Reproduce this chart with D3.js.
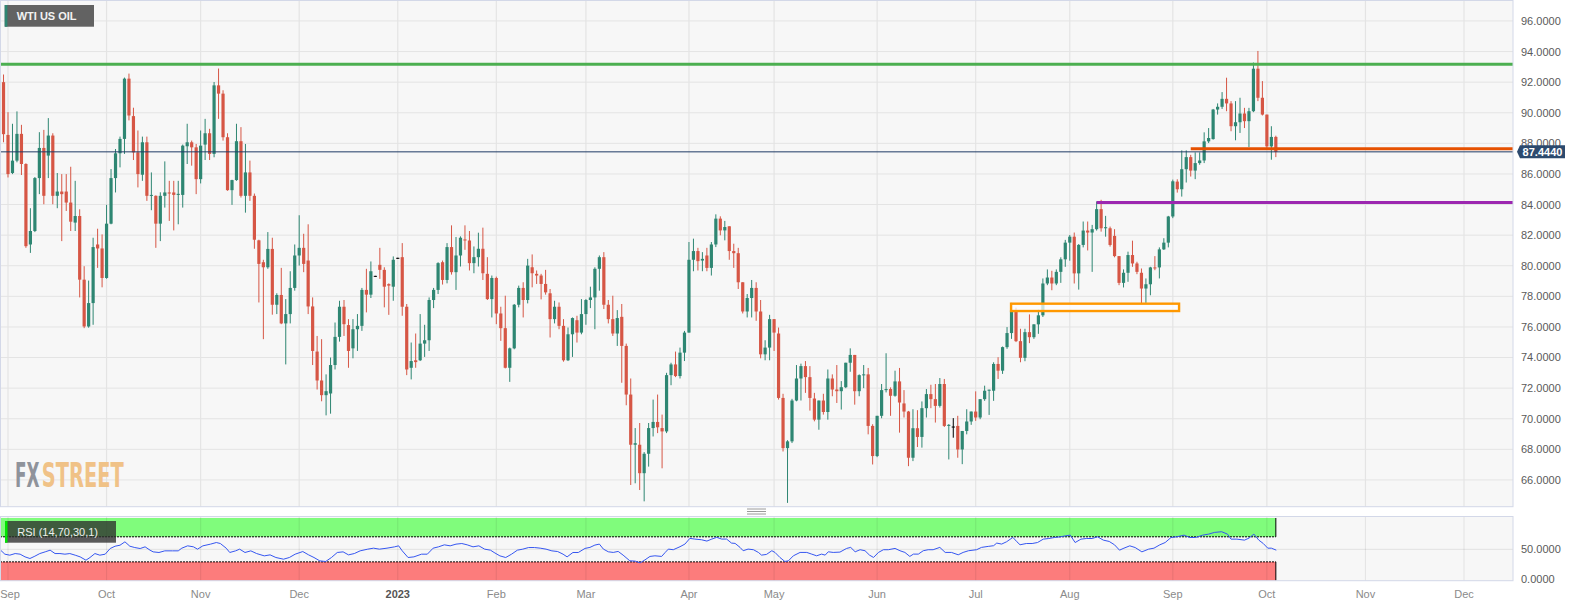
<!DOCTYPE html>
<html lang="en">
<head>
<meta charset="UTF-8">
<title>WTI US OIL</title>
<script src="https://cdnjs.cloudflare.com/ajax/libs/d3/7.8.5/d3.min.js"></script>
<style>
body { margin: 0; background: #fff; }
text { font-family: "Liberation Sans", Arial, sans-serif; }
</style>
</head>
<body>
<div id="chart"></div>
<script>
// daily candles [open, high, low, close]; row 0 is two sessions before 1 Sep 2022
var firstIndex = -2;
var ohlc = [
  [97.90,98.30,90.20,90.30],[92.00,92.50,88.07,88.60],
  // Sep 2022
  [88.55,90.04,85.77,85.99],[86.06,89.28,85.99,86.87],[86.87,90.09,86.76,88.62],[88.62,89.21,85.93,86.65],
  [86.65,86.70,81.17,81.28],[81.39,83.76,80.84,82.27],[82.27,85.80,82.20,85.73],[85.73,88.73,84.68,87.70],
  [87.70,88.88,84.02,84.57],[87.20,89.65,85.73,88.51],[88.51,88.66,84.02,84.57],[84.57,86.06,83.76,84.85],
  [84.85,85.99,81.61,84.68],[84.85,85.99,83.58,84.13],[84.13,86.47,82.27,82.88],[82.82,85.55,82.27,83.25],
  [83.25,83.69,77.93,79.09],[79.09,79.97,75.92,76.03],[76.03,79.03,75.95,77.56],[77.56,81.83,76.14,81.22],
  [81.39,82.42,79.86,81.13],[81.13,82.05,78.59,79.20],
  // Oct 2022
  [79.20,83.98,79.15,82.75],[82.75,86.32,82.71,85.73],[85.73,87.63,84.79,87.35],[87.35,88.44,86.43,88.29],
  [88.29,92.30,87.31,92.23],[92.23,92.56,89.50,89.82],[89.78,90.33,86.91,87.41],[87.41,88.84,85.12,85.99],
  [85.95,88.44,85.55,88.07],[88.07,88.44,84.24,84.57],[84.57,86.10,83.63,84.63],[84.57,84.60,81.17,82.75],
  [82.75,84.80,81.61,84.57],[84.57,86.82,83.80,84.79],[84.79,85.55,82.93,84.72],[84.79,85.55,82.31,84.63],
  [84.63,85.55,82.71,84.70],[84.63,87.92,83.80,87.85],[87.81,89.28,86.65,88.07],[88.07,88.18,86.54,87.74],
  [87.74,87.96,84.68,85.66],
  // Nov 2022
  [85.66,88.84,85.38,87.85],[87.92,89.60,86.91,88.66],[88.66,88.95,86.91,87.31],[87.31,92.01,87.09,91.79],
  [91.79,92.89,89.60,91.25],[91.25,91.47,88.18,88.40],[88.40,88.66,84.90,84.94],[84.94,85.62,83.98,85.60],
  [85.60,89.28,85.55,88.14],[88.14,89.06,84.46,84.57],[84.57,87.96,83.47,86.10],[86.10,86.87,84.24,84.57],
  [84.57,84.72,81.11,81.70],[81.66,81.70,77.60,80.12],[80.23,80.39,75.20,79.90],[79.90,82.20,79.80,81.10],
  [81.10,81.83,76.80,77.45],[77.45,78.20,76.84,78.09],[78.09,79.86,76.18,76.23],[76.23,77.82,73.55,76.84],
  [76.84,79.64,76.23,78.55],[78.55,81.39,78.37,80.67],
  // Dec 2022
  [80.67,83.30,80.01,81.17],[81.17,82.09,79.58,80.12],[80.34,82.71,76.84,77.34],[77.34,77.93,73.51,74.43],
  [74.39,75.41,71.91,72.50],[72.50,75.20,71.14,71.54],[71.54,72.90,70.22,71.80],[71.65,74.00,70.33,73.51],
  [73.51,76.29,73.22,75.35],[75.35,77.71,75.04,77.32],[77.32,77.76,75.41,76.18],[76.12,76.51,73.33,74.43],
  [74.60,76.51,73.95,75.85],[75.85,76.84,74.43,76.07],[76.07,78.55,75.74,78.42],[78.42,79.80,76.95,78.11],
  [78.11,80.28,77.89,79.64],[79.34,79.34,79.34,79.34],[80.06,81.17,79.14,79.73],[79.73,79.90,77.28,78.63],
  [78.80,78.85,76.79,78.70],[78.63,80.61,77.71,80.39],
  // Jan 2023
  [80.52,80.52,80.52,80.52],[80.56,81.48,76.73,77.32],[77.32,77.50,72.85,73.22],[73.33,74.98,72.57,73.77],
  [73.82,75.57,73.33,73.70],[73.82,76.84,73.77,74.91],[74.91,76.14,74.04,75.13],[75.13,77.93,74.43,77.76],
  [77.76,78.55,77.23,78.42],[78.42,80.23,78.15,80.17],[80.23,80.34,78.77,79.07],[79.07,81.48,78.85,81.22],
  [81.22,82.64,79.42,79.58],[79.58,81.88,78.42,80.67],[80.67,81.92,79.95,81.83],[81.72,82.64,81.04,81.65],
  [81.65,82.27,79.69,80.17],[80.17,81.26,79.51,80.56],[80.56,82.16,79.95,81.11],[81.11,82.49,79.07,79.51],
  [79.47,80.56,77.76,77.82],[77.82,79.36,76.62,79.20],
  // Feb 2023
  [79.20,79.29,76.18,76.88],[76.88,77.32,75.09,75.92],[75.92,78.04,73.29,73.33],[73.33,74.65,72.41,74.60],
  [74.60,77.50,74.54,77.45],[77.45,78.70,77.28,78.55],[78.55,78.92,76.62,77.76],[77.76,80.45,77.54,80.01],
  [79.90,80.74,78.59,79.51],[79.47,79.69,78.81,79.36],[79.36,79.47,77.80,78.81],[78.81,79.73,78.11,78.26],
  [78.20,78.48,75.31,76.51],[76.51,77.71,76.23,77.32],[77.32,77.60,75.85,76.07],[76.07,76.51,73.73,73.82],
  [73.82,75.96,73.77,75.52],[75.52,76.62,74.04,76.58],[76.44,76.73,74.98,75.63],[75.63,77.82,75.52,76.84],
  // Mar 2023
  [76.84,77.82,76.14,77.76],[77.76,78.63,77.23,77.93],[77.93,79.90,75.85,79.80],[79.80,80.67,78.37,80.56],
  [80.56,80.89,77.17,77.45],[77.45,77.76,76.23,76.51],[76.51,78.04,75.41,75.57],[75.57,77.10,74.76,76.58],
  [76.66,77.50,72.35,74.76],[74.76,74.91,70.88,71.58],[71.58,72.63,65.67,68.30],[68.30,69.39,65.78,68.40],
  [68.30,69.72,65.34,66.44],[66.44,67.82,64.60,67.71],[67.71,69.72,66.87,69.39],[69.39,71.25,68.84,69.79],
  [69.79,71.58,69.06,69.44],[69.39,70.27,66.76,69.17],[69.17,73.00,69.06,72.85],[72.85,73.66,72.19,73.55],
  [73.55,74.39,72.72,72.79],[72.79,74.65,72.63,74.32],[74.32,75.74,73.77,75.63],
  // Apr 2023
  [75.63,81.55,75.63,80.39],[80.39,81.77,79.64,80.96],[80.96,81.17,79.69,80.30],[80.34,80.89,79.64,80.45],
  [80.67,81.17,79.64,79.86],[79.86,81.55,79.36,81.39],[81.39,83.36,81.22,83.08],[83.08,83.23,81.99,82.31],
  [82.31,82.93,81.66,82.53],[82.58,82.58,80.39,80.96],[80.96,81.44,79.86,80.82],[80.82,81.17,78.48,78.92],
  [78.92,78.92,76.88,77.01],[77.01,78.15,76.62,77.89],[77.89,79.07,76.62,78.55],[78.55,78.92,76.40,77.01],
  [77.01,77.76,73.95,74.21],[74.21,75.13,73.82,74.65],[74.65,76.79,73.82,76.51],
  // May 2023
  [76.51,76.51,74.43,75.63],[75.57,75.96,71.25,71.36],[71.36,71.63,67.86,68.08],[68.08,68.60,64.50,68.52],
  [68.52,71.30,68.41,71.19],[71.19,73.51,71.14,72.63],[72.63,73.60,71.19,73.44],[73.44,73.77,71.69,72.72],
  [72.72,73.44,70.53,71.36],[71.32,71.69,69.83,69.94],[69.94,71.19,69.28,71.19],[71.19,71.63,70.27,70.44],
  [70.44,73.22,69.94,72.63],[72.63,72.90,71.47,71.91],[71.91,73.51,71.03,71.80],[71.80,72.46,70.60,72.06],
  [72.06,73.66,72.00,73.66],[73.66,74.60,73.07,74.17],[74.17,74.17,70.92,71.80],[71.80,72.90,71.47,72.85],
  [72.85,73.51,72.00,72.90],[72.90,73.32,68.98,69.53],[69.53,69.64,67.01,67.56],
  // Jun 2023
  [67.56,70.19,67.49,70.19],[70.19,72.27,70.03,71.87],[71.87,74.28,71.72,71.94],[71.94,72.05,70.19,71.50],
  [71.50,73.14,71.44,72.44],[72.44,73.32,69.09,71.06],[71.00,71.87,70.08,70.47],[70.47,70.51,66.90,67.45],
  [67.45,70.62,67.23,69.38],[69.38,70.56,68.15,68.81],[68.81,71.13,68.11,70.69],[70.69,71.94,70.08,71.61],
  [71.61,72.22,70.69,71.28],[71.28,72.27,69.75,70.84],[70.84,72.66,70.73,72.27],[72.27,72.60,69.46,69.53],
  [69.53,69.65,67.34,69.60],[69.49,70.04,68.76,69.49],[69.53,70.19,67.45,67.99],[67.99,69.20,67.03,69.20],
  [69.20,70.62,68.98,69.82],[69.82,70.47,69.60,70.47],
  // Jul 2023
  [70.47,71.79,69.86,70.08],[70.08,71.28,69.97,71.28],[71.28,72.16,71.17,71.83],[71.83,71.90,70.25,71.90],
  [71.83,73.69,71.17,73.58],[73.58,74.02,72.60,73.14],[73.14,74.72,72.93,74.68],[74.68,75.99,74.57,75.60],
  [75.60,77.57,75.22,77.09],[77.09,77.26,75.01,75.07],[75.07,75.88,73.69,73.98],[73.98,75.88,73.76,75.66],
  [75.66,76.82,74.94,75.33],[75.33,76.17,75.22,76.17],[76.17,77.13,75.55,76.76],[76.76,79.17,76.65,78.84],
  [78.84,79.76,78.73,79.23],[79.23,79.67,78.40,78.84],[78.84,79.76,78.73,79.60],[79.60,80.55,78.88,80.42],
  [80.42,81.69,79.93,81.51],
  // Aug 2023
  [81.51,82.01,80.33,81.90],[81.90,82.17,78.84,79.50],[79.50,81.42,78.44,81.36],[81.36,82.89,81.20,82.30],
  [82.30,82.89,81.00,82.17],[82.17,82.67,79.60,82.39],[82.39,84.20,82.30,83.70],[83.70,84.31,82.23,82.45],
  [82.45,83.26,81.90,82.52],[82.45,82.56,81.25,81.36],[81.95,82.39,80.55,80.63],[80.63,80.63,78.73,78.88],
  [78.88,79.76,78.58,79.54],[79.54,80.92,78.95,80.70],[80.70,81.64,79.93,80.15],[80.15,80.26,79.45,79.60],
  [79.54,79.82,77.52,78.51],[78.51,79.17,77.57,78.79],[78.79,79.93,78.07,79.89],[79.89,80.63,79.71,79.85],
  [79.89,81.20,79.17,81.07],[81.07,81.80,81.03,81.51],[81.51,83.26,81.20,83.22],
  // Sep 2023
  [83.22,85.63,83.11,85.52],[85.50,85.65,84.78,85.00],[85.00,87.54,84.52,86.31],[86.31,87.54,85.44,87.10],
  [87.10,87.25,85.83,86.22],[86.22,87.41,85.66,86.71],[86.71,87.41,86.60,86.88],[86.88,88.72,86.71,88.13],
  [88.13,89.00,88.02,88.35],[88.28,90.25,88.24,90.21],[90.21,90.61,89.88,90.39],[90.39,91.35,90.25,90.91],
  [90.91,92.29,90.10,90.61],[90.61,90.76,88.79,89.12],[89.12,90.76,88.20,89.38],[89.38,90.98,88.68,89.95],
  [89.95,90.32,89.00,89.45],[89.45,90.32,87.76,90.10],[90.10,93.28,90.04,92.88],[92.88,94.04,90.76,90.98],
  [90.98,92.07,89.82,89.88],
  // Oct 2023
  [89.88,89.88,87.69,87.80],[87.80,89.12,86.93,88.42],[88.42,88.50,87.10,87.444]
];

var priceTicks = [66, 68, 70, 72, 74, 76, 78, 80, 82, 84, 86, 88, 90, 92, 94, 96];
var rsiTicks = [0, 50];
var monthLabels = ["Sep", "Oct", "Nov", "Dec", "2023", "Feb", "Mar", "Apr", "May", "Jun", "Jul", "Aug", "Sep", "Oct", "Nov", "Dec"];
var monthStart = [0, 22, 43, 65, 87, 109, 129, 152, 171, 194, 216, 237, 260, 281, 303, 325];

// drawn levels: price, first candle index, colour
var levelPrice = [93.17, 87.65, 84.14];
var levelFrom = [-2, 264, 243];
var levelColor = ["#4caf50", "#e65100", "#9c27b0"];

// orange zone: candle index range and price range
var boxFrom = [223.9], boxTo = [261.4], boxLow = [77.04], boxHigh = [77.52];

// RSI(14) line: [candle index, value]
var rsiPoints = [
  [-1.8,49.7],[-0.7,42.3],[0.4,40.7],[1.6,43.3],[2.7,42.3],[3.8,38],[4.9,35.4],[6,39.1],[7.1,43.3],[8.3,46],
  [9.4,48.7],[10.5,43.3],[11.6,43.3],[12.7,42.3],[13.8,43.3],[15,40.7],[16.1,38],[17.4,32.7],[18.3,37],[19.4,43.3],
  [20.5,40.7],[21.7,42.3],[22.8,51.3],[23.9,55],[25,56.6],[26.1,62],[27.2,55],[28.3,52.9],[29.5,51.3],[30.6,54],
  [31.7,48.7],[32.4,46],[33.7,45],[35,47.6],[36.7,47.6],[38,47.6],[38.8,51.9],[40.1,55.6],[41.4,54],[42.3,50.3],
  [43.5,55.6],[45.2,58.3],[46.5,60.9],[47.4,59.3],[48.7,51.9],[49.5,45],[50.8,47.6],[51.7,50.3],[52.9,45],[54.2,47.6],
  [55.5,43.3],[57.2,39.6],[58.5,41.2],[59.8,37],[61.5,34.3],[62.8,37],[64.1,42.3],[65.8,46.5],[67.1,41.2],[68.3,37],
  [69.6,31.6],[70.9,30.6],[72.2,37],[73.5,45],[74.8,46],[76,41.2],[77.3,43.3],[78.6,47.6],[80.3,50.3],[81.6,51.9],
  [82.9,50.3],[84.6,51.9],[86.3,54],[87.2,55.6],[88,47.6],[89.3,37],[90.6,38],[92.3,42.3],[93.6,42.3],[94.9,51.9],
  [96.1,54],[97.4,57.2],[98.7,55.6],[100,58.3],[101.3,59.3],[102.5,57.2],[103.8,54],[105.1,55.6],[106.4,50.3],[107.7,48.7],
  [108.5,45],[109.8,39.6],[111.1,37],[112.4,42.3],[113.7,48.7],[114.9,50.3],[116.2,52.9],[117.5,52.9],[118.8,51.9],[120.1,50.3],
  [121.4,47.6],[122.7,46.5],[123.9,42.3],[124.8,38],[126.1,45],[127.3,45],[128.8,51.5],[129.9,53.1],[131,56.8],[132,58.4],
  [132.9,50.4],[134,46.1],[135.1,45.1],[136.2,46.7],[137.3,40.8],[138.8,31.7],[140,31.2],[141.1,28.5],[142.2,33.3],[143.3,38.7],
  [144.4,39.7],[145.9,38.7],[146.7,45.1],[147.4,50.4],[148.5,49.4],[150,54.2],[151.1,58.4],[152.2,67.5],[153.3,66.4],[154.8,65.3],
  [156,63.2],[157.1,66.4],[158.2,69.1],[159.3,66.4],[160.4,66.4],[161.5,60],[162.3,59.5],[163.4,53.1],[164.1,47.8],[165.2,50.4],
  [166.4,49.4],[167.5,45.1],[168.2,40.8],[169.3,41.9],[170.5,47.8],[171.2,45.1],[172.3,37.1],[173.4,30.7],[174.2,31.7],[175.3,39.7],
  [176.8,45.1],[178.3,45.1],[179.4,42.4],[180.5,39.7],[181.6,42.4],[182.4,40.8],[183.1,46.1],[184.2,45.1],[185.7,45.6],[187.2,51.5],
  [188.1,53.1],[189.1,46.1],[190.2,49.4],[191.3,47.8],[192.3,40.8],[193.2,37.1],[194.3,45.1],[195.4,49.4],[196.5,49.4],[198,51.5],
  [199.1,47.8],[200.2,45.1],[201.3,38.7],[202.1,42.4],[203.2,42.4],[204.3,47.8],[205.4,49.4],[206.5,49.4],[208,53.1],[209.2,45.1],
  [210.6,45.1],[212.1,41.3],[213.2,45.1],[214.4,47.8],[216.2,49.4],[217.3,53.1],[218.8,54.7],[220,55.8],[220.7,60],[221.8,58.4],
  [222.9,62.1],[224.3,69.1],[225.2,62.1],[225.9,57.3],[227.3,59.3],[228.6,59.3],[229.8,60.9],[231.1,66.3],[232.3,67.3],[233.6,68.9],
  [234.9,70],[236.1,71.6],[237.1,72.7],[238.2,60.9],[239.5,66.3],[240.7,67.3],[242,67.3],[243.2,70],[244.5,64.7],[245.8,62.6],
  [247,57.2],[248.1,48.7],[249.1,51.9],[250.4,55.6],[251.6,52.9],[253.1,46],[254.6,50.3],[255.8,51.9],[257.1,57.2],[258.3,60.9],
  [259.6,68.9],[260.9,70],[262.5,72.7],[263.8,68.9],[265.1,68.9],[266.7,72.7],[268,74.3],[269.3,77],[270.9,78.1],[272.2,74.3],
  [273,66.3],[274.3,66.3],[276,64.7],[277,67.9],[278.1,74.3],[279.2,64.7],[280.2,59.3],[281.2,51.9],[282,51.9],[283.1,48.7]
];

var W = 1590, H = 607;
var plotRight = 1513;
var mainTop = 0, mainBottom = 506.7;
var rsiTop = 516.5, rsiBottom = 580.7;
var up = "#2e8672", down = "#d65645";

var lastIndex = firstIndex + ohlc.length - 1;
var lastClose = ohlc[ohlc.length - 1][3];

var x = d3.scaleLinear().domain([-8 / 4.48, (plotRight - 8) / 4.48]).range([0, plotRight]);
var y = d3.scaleLinear().domain([64.25, 97.37]).range([mainBottom, mainTop]);
var ry = d3.scaleLinear().domain([0, 100]).range([rsiBottom, 518]);

var svg = d3.select("#chart").append("svg")
    .attr("width", W)
    .attr("height", H);

svg.append("clipPath").attr("id", "clipMain")
  .append("rect").attr("x", 0).attr("y", mainTop).attr("width", plotRight).attr("height", mainBottom - mainTop);
svg.append("clipPath").attr("id", "clipRsi")
  .append("rect").attr("x", 0).attr("y", rsiTop).attr("width", plotRight).attr("height", rsiBottom - rsiTop);

// ---------- main panel ----------
svg.append("rect")
    .attr("x", 0).attr("y", mainTop)
    .attr("width", plotRight).attr("height", mainBottom - mainTop)
    .style("fill", "#f7f7f7");

var main = svg.append("g").attr("clip-path", "url(#clipMain)");

main.selectAll(".hgrid").data(priceTicks).enter().append("line")
    .attr("x1", 0).attr("x2", plotRight)
    .attr("y1", function (d) { return y(d); })
    .attr("y2", function (d) { return y(d); })
    .style("stroke", "#e4e4e4").style("stroke-width", 1);

main.selectAll(".vgrid").data(monthStart).enter().append("line")
    .attr("x1", function (d) { return x(d); })
    .attr("x2", function (d) { return x(d); })
    .attr("y1", mainTop).attr("y2", mainBottom)
    .style("stroke", "#e4e4e4").style("stroke-width", 1.2);

// watermark: each word squeezed into its own width with a scale transform
var logoFont = "'DejaVu Sans Condensed', 'Liberation Sans Narrow', sans-serif";
function logoWord(word, left, width, colour) {
    var g = svg.append("g");
    var t = g.append("text")
        .attr("x", 0).attr("y", 0)
        .style("font-family", logoFont).style("font-weight", "bold").style("font-size", "34px")
        .style("fill", colour)
        .text(word);
    var natural = t.node().getComputedTextLength() || width;
    g.attr("transform", "translate(" + left + ",486.5) scale(" + (width / natural) + ",1)");
}
logoWord("FX", 15, 24.5, "#8f939b");
logoWord("STREET", 41.8, 82, "#f0c287");

// candles
var candles = ohlc.map(function (d, k) {
    return { i: firstIndex + k, open: d[0], high: d[1], low: d[2], close: d[3] };
});

function candleColor(d) {
    if (d.close > d.open) return up;
    if (d.close < d.open) return down;
    return "#000";
}

main.selectAll(".wick").data(candles).enter().append("line")
    .attr("x1", function (d) { return x(d.i); })
    .attr("x2", function (d) { return x(d.i); })
    .attr("y1", function (d) { return y(d.high); })
    .attr("y2", function (d) { return Math.max(y(d.low), y(d.high) + 1); })
    .style("stroke", candleColor)
    .style("stroke-width", 1);

main.selectAll(".body").data(candles).enter().append("rect")
    .attr("x", function (d) { return x(d.i) - 1.6; })
    .attr("width", 3.2)
    .attr("y", function (d) { return y(Math.max(d.open, d.close)); })
    .attr("height", function (d) { return Math.max(1, Math.abs(y(d.open) - y(d.close))); })
    .style("fill", candleColor);

// orange zone
main.selectAll(".zone").data(boxFrom).enter().append("rect")
    .attr("x", function (d, k) { return x(d); })
    .attr("width", function (d, k) { return x(boxTo[k]) - x(d); })
    .attr("y", function (d, k) { return y(boxHigh[k]); })
    .attr("height", function (d, k) { return y(boxLow[k]) - y(boxHigh[k]); })
    .style("fill", "rgba(255,255,255,0.75)")
    .style("stroke", "#ff9800")
    .style("stroke-width", 2.4);

// horizontal levels
main.selectAll(".level").data(levelPrice).enter().append("line")
    .attr("x1", function (d, k) { return Math.max(0, x(levelFrom[k])); })
    .attr("x2", plotRight)
    .attr("y1", function (d) { return y(d); })
    .attr("y2", function (d) { return y(d); })
    .style("stroke", function (d, k) { return levelColor[k]; })
    .style("stroke-width", 3);

// last price line
main.append("line")
    .attr("x1", 0).attr("x2", plotRight)
    .attr("y1", y(lastClose)).attr("y2", y(lastClose))
    .style("stroke", "#1f3a66").style("stroke-width", 1);

// title tag
svg.append("rect").attr("x", 4.7).attr("y", 5).attr("width", 89.3).attr("height", 21.7).style("fill", "#626262");
svg.append("rect").attr("x", 4.7).attr("y", 5).attr("width", 2.7).attr("height", 21.7).style("fill", up);
svg.append("text").attr("x", 16.7).attr("y", 20.3)
    .style("font-size", "11px").style("font-weight", "bold").style("fill", "#f2f2f2")
    .text("WTI US OIL");

// borders
svg.append("rect")
    .attr("x", 0.5).attr("y", 0.5)
    .attr("width", plotRight - 0.5).attr("height", mainBottom - 0.5)
    .style("fill", "none").style("stroke", "#d3d8e8").style("stroke-width", 1);

// splitter grip
svg.selectAll(".grip").data([509, 511.5, 514]).enter().append("line")
    .attr("x1", 747).attr("x2", 766)
    .attr("y1", function (d) { return d; }).attr("y2", function (d) { return d; })
    .style("stroke", "#9a9a9a").style("stroke-width", 1);

// price axis
svg.selectAll(".ptick").data(priceTicks).enter().append("text")
    .attr("x", plotRight + 8)
    .attr("y", function (d) { return y(d); })
    .attr("dy", "0.36em")
    .style("font-size", "11px").style("fill", "#5a5a5a")
    .text(function (d) { return d.toFixed(4); });

// last price tag (sits over the nearest axis label, as in the original)
var ty = y(lastClose);
svg.append("path")
    .attr("d", "M" + (plotRight + 4) + "," + ty +
        " L" + (plotRight + 7) + "," + (ty - 6.5) +
        " L" + (plotRight + 52) + "," + (ty - 6.5) +
        " L" + (plotRight + 52) + "," + (ty + 6.5) +
        " L" + (plotRight + 7) + "," + (ty + 6.5) + " Z")
    .style("fill", "#2c4a6e");
svg.append("text")
    .attr("x", plotRight + 29.5).attr("y", ty).attr("dy", "0.36em")
    .attr("text-anchor", "middle")
    .style("font-size", "11px").style("font-weight", "bold").style("fill", "#fff")
    .text(lastClose.toFixed(4));

// ---------- RSI panel ----------
svg.append("rect")
    .attr("x", 0).attr("y", rsiTop)
    .attr("width", plotRight).attr("height", rsiBottom - rsiTop)
    .style("fill", "#f7f7f7");

var rsi = svg.append("g").attr("clip-path", "url(#clipRsi)");
var xEnd = x(lastIndex);

rsi.append("rect").attr("x", 0).attr("y", ry(100)).attr("width", xEnd).attr("height", ry(70) - ry(100))
    .style("fill", "#80fc7c");
rsi.append("rect").attr("x", 0).attr("y", ry(30)).attr("width", xEnd).attr("height", ry(0) - ry(30))
    .style("fill", "#fc7c7c");

rsi.selectAll(".vgrid").data(monthStart).enter().append("line")
    .attr("x1", function (d) { return x(d); })
    .attr("x2", function (d) { return x(d); })
    .attr("y1", rsiTop).attr("y2", rsiBottom)
    .style("stroke", "rgba(0,0,0,0.07)").style("stroke-width", 1.2);
rsi.append("line").attr("x1", 0).attr("x2", plotRight).attr("y1", ry(50)).attr("y2", ry(50))
    .style("stroke", "rgba(0,0,0,0.07)").style("stroke-width", 1.2);

rsi.selectAll(".band").data([70, 30]).enter().append("line")
    .attr("x1", 0).attr("x2", xEnd)
    .attr("y1", function (d) { return ry(d); }).attr("y2", function (d) { return ry(d); })
    .style("stroke", "#000").style("stroke-width", 1).style("stroke-dasharray", "2,1");
rsi.selectAll(".bandEdge").data([[100, 70], [30, 0]]).enter().append("line")
    .attr("x1", xEnd).attr("x2", xEnd)
    .attr("y1", function (d) { return ry(d[0]); }).attr("y2", function (d) { return ry(d[1]); })
    .style("stroke", "#000").style("stroke-width", 1);
rsi.selectAll(".bandLeft").data([[100, 70], [30, 0]]).enter().append("line")
    .attr("x1", 0.5).attr("x2", 0.5)
    .attr("y1", function (d) { return ry(d[0]); }).attr("y2", function (d) { return ry(d[1]); })
    .style("stroke", "#000").style("stroke-width", 1);

var rsiLine = d3.line()
    .x(function (d) { return x(d[0]); })
    .y(function (d) { return ry(d[1]); });
rsi.append("path").datum(rsiPoints)
    .attr("d", rsiLine)
    .style("fill", "none").style("stroke", "#3556f0").style("stroke-width", 1);

// RSI tag
svg.append("rect").attr("x", 5).attr("y", 521).attr("width", 111).attr("height", 21.7).style("fill", "rgba(45,45,45,0.78)");
svg.append("rect").attr("x", 5).attr("y", 521).attr("width", 2.5).attr("height", 21.7).style("fill", "#00e600");
svg.append("text").attr("x", 17.3).attr("y", 535.8)
    .style("font-size", "11px").style("fill", "#eeeeee")
    .text("RSI (14,70,30,1)");

svg.append("rect")
    .attr("x", 0.5).attr("y", rsiTop)
    .attr("width", plotRight - 0.5).attr("height", rsiBottom - rsiTop)
    .style("fill", "none").style("stroke", "#d3d8e8").style("stroke-width", 1);

svg.selectAll(".rtick").data(rsiTicks).enter().append("text")
    .attr("x", plotRight + 8)
    .attr("y", function (d) { return d === 0 ? ry(d) - 1.4 : ry(d); })
    .attr("dy", "0.36em")
    .style("font-size", "11px").style("fill", "#5a5a5a")
    .text(function (d) { return d.toFixed(4); });

// month labels
svg.selectAll(".mlabel").data(monthLabels).enter().append("text")
    .attr("x", function (d, k) { return Math.max(10, x(monthStart[k])); })
    .attr("y", 594.5)
    .attr("dy", "0.36em")
    .attr("text-anchor", "middle")
    .style("font-size", "11px")
    .style("font-weight", function (d) { return /^\d{4}$/.test(d) ? "bold" : "normal"; })
    .style("fill", function (d) { return /^\d{4}$/.test(d) ? "#555" : "#8a8a8a"; })
    .text(function (d) { return d; });
</script>
</body>
</html>
